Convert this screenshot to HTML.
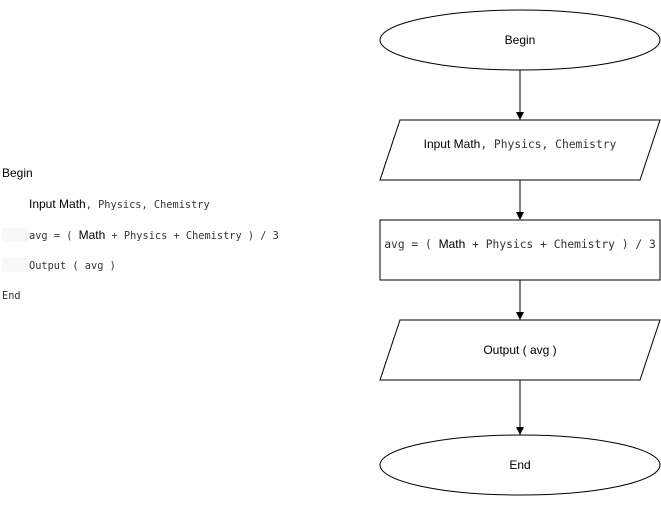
<!DOCTYPE html>
<html><head><style>
body{margin:0;background:#fff;width:661px;height:506px;overflow:hidden}
svg{display:block}
.s{font-family:"Liberation Sans",Arial,sans-serif;font-size:12px;fill:#000}
.m{font-family:"DejaVu Sans Mono","Liberation Mono",monospace;font-size:10.3px;fill:#333}
.m2{font-family:"DejaVu Sans Mono","Liberation Mono",monospace;font-size:11.3px;fill:#333}
</style></head><body>
<svg width="661" height="506" xmlns="http://www.w3.org/2000/svg">
<g fill="#f7f7f7">
<rect x="2" y="228" width="26" height="14"/>
<rect x="2" y="258" width="26" height="14"/>
</g>
<text class="s" x="2" y="177">Begin</text>
<text x="29" y="208"><tspan class="s">Input Math</tspan><tspan class="m">, Physics, Chemistry</tspan></text>
<text x="29" y="239"><tspan class="m">avg = ( </tspan><tspan class="s">Math</tspan><tspan class="m"> + Physics + Chemistry ) / 3</tspan></text>
<text class="m" x="29" y="269">Output ( avg )</text>
<text class="m" x="2" y="299">End</text>

<g fill="#fff" stroke="#000" stroke-width="1">
<ellipse cx="520" cy="40" rx="140" ry="30"/>
<polygon points="400,120 660,120 640,180 380,180"/>
<rect x="380" y="220" width="280" height="60"/>
<polygon points="400,320 660,320 640,380 380,380"/>
<ellipse cx="520" cy="465" rx="140" ry="30"/>
</g>
<g stroke="#000" stroke-width="1">
<line x1="520" y1="70" x2="520" y2="113"/>
<line x1="520" y1="180" x2="520" y2="213"/>
<line x1="520" y1="280" x2="520" y2="313"/>
<line x1="520" y1="380" x2="520" y2="428"/>
</g>
<g fill="#000">
<path d="M516,112 L524,112 L520,120 z"/>
<path d="M516,212 L524,212 L520,220 z"/>
<path d="M516,312 L524,312 L520,320 z"/>
<path d="M516,427 L524,427 L520,435 z"/>
</g>
<text class="s" x="520" y="44" text-anchor="middle">Begin</text>
<text x="520" y="148" text-anchor="middle"><tspan class="s">Input Math</tspan><tspan class="m2">, Physics, Chemistry</tspan></text>
<text x="520" y="248" text-anchor="middle"><tspan class="m2">avg = ( </tspan><tspan class="s">Math</tspan><tspan class="m2"> + Physics + Chemistry ) / 3</tspan></text>
<text class="s" x="520" y="354" text-anchor="middle">Output ( avg )</text>
<text class="s" x="520" y="469" text-anchor="middle">End</text>
</svg>
</body></html>
